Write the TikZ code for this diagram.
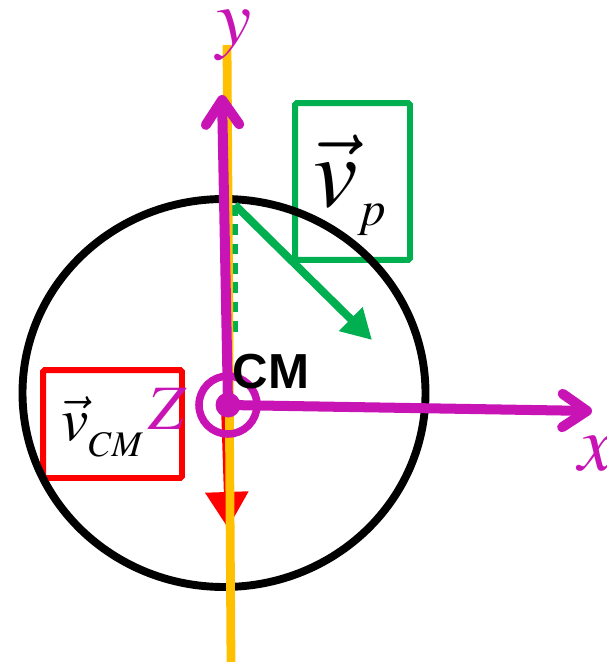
\documentclass[tikz,border=0pt]{standalone}
\usepackage{mathptmx}
\usepackage[no-math]{fontspec}
\newfontfamily\cmfont{Liberation Sans}
\usetikzlibrary{arrows.meta}
\definecolor{axismag}{RGB}{200,20,180}
\definecolor{linegold}{RGB}{255,192,0}
\definecolor{velgreen}{RGB}{0,176,80}
\definecolor{velred}{RGB}{255,0,0}
\tikzset{
  rim/.style={draw=black, line width=4.5pt},
  axis/.style={draw=axismag, line width=5.7pt, line cap=round, -{Straight Barb[length=14pt, width=19pt, round]}},
  axislabel/.style={text=axismag, inner sep=0pt, font=\fontsize{45}{45}\selectfont},
  vbox/.style={draw=#1, line width=3.4pt, rounded corners=1pt, rectangle, fill=none},
  vlabel/.style={inner sep=0pt, anchor=base west}
}
\newcommand{\vlab}[4]{{\fontsize{#1}{#1}\selectfont$\vec{v}$}\raisebox{-#3}{\fontsize{#2}{#2}\selectfont$#4$}}

\begin{document}
\begin{tikzpicture}[x=0.02cm, y=-0.02cm]
  \useasboundingbox (0,0) rectangle (606,662);
  \coordinate (cm) at (228,405);
  \coordinate (ytip) at (222,95);
  \coordinate (xtip) at (592,411);
  \coordinate (goldtop) at (227,45);
  \coordinate (goldbot) at (231,662);
  \coordinate (vptail) at (235,205);
  \coordinate (vphead) at (372,340);
  \coordinate (dashend) at (235,332);
  \coordinate (vcmtail) at (224,405);
  \coordinate (vcmhead) at (228,528);
  \node[vbox=velgreen, minimum width=2.3cm, minimum height=3.14cm] (vpbox) at (352.5,181.5) {};
  \node[vlabel] (vp) at (313,207) {\vlab{57}{28}{10.5pt}{p}};
  \node[vbox=velred, minimum width=2.78cm, minimum height=2.16cm] (vcmbox) at (112.5,424) {};
  \node[vlabel] (vcm) at (61,440) {\vlab{35}{20.5}{9.5pt}{CM}};
  \draw[rim] (224,393) ellipse [x radius=201.5, y radius=194];
  \draw[velgreen, line width=3.2pt, dash pattern=on 6pt off 5pt] (vptail) -- (dashend);
  \draw[velgreen, line width=4.5pt, -{Triangle[length=17pt, width=18pt]}] (vptail) -- (vphead);
  \draw[velred, line width=3.4pt, -{Triangle[length=20.5pt, width=24pt]}] (vcmtail) -- (vcmhead);
  \draw[linegold, line width=5pt] (goldtop) -- (goldbot);
  \draw[axis] (cm) -- (ytip);
  \draw[axis] (cm) -- (xtip);
  \draw[axismag, line width=4.3pt] (cm) circle [radius=29];
  \fill[axismag] (cm) circle [radius=12.5];
  \node[axislabel] (ylab) at (234,35) {$y$};
  \node[axislabel] (xlab) at (596,454) {$x$};
  \node[axislabel, font=\fontsize{36}{36}\selectfont] (zlab) at (168,409) {$Z$};
  \node[inner sep=0pt, font=\cmfont\bfseries\fontsize{28}{28}\selectfont] (cmlab) at (271,372) {CM};
\end{tikzpicture}
\end{document}
